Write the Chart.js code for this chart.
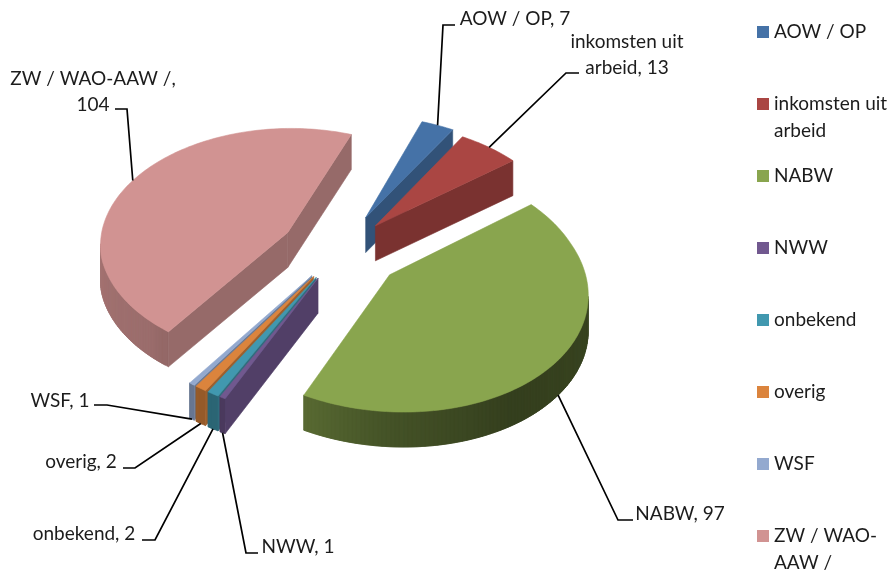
<!DOCTYPE html>
<html>
<head>
<meta charset="utf-8">
<title>Inkomstenbron</title>
<script src="https://cdn.jsdelivr.net/npm/chart.js@4"></script>
<style>
  html, body { margin: 0; padding: 0; background: #fff; }
  canvas { display: block; }
</style>
</head>
<body>
<canvas id="chart" width="896" height="574"></canvas>
<script>
(function(){
  const categories = ['AOW / OP', 'inkomsten uit arbeid', 'NABW', 'NWW', 'onbekend', 'overig', 'WSF', 'ZW / WAO-AAW /'];
  const values = [7, 13, 97, 1, 2, 2, 1, 104];
  const colors = ['#4572A7', '#AA4643', '#89A54E', '#71588F', '#4198AF', '#DB843D', '#93A9CF', '#D19392'];
  const explode = [60, 54, 61, 50, 50, 50, 50, 60];

  // legend text wrapped the way the reference wraps it
  const legendLines = [['AOW / OP'], ['inkomsten uit', 'arbeid'], ['NABW'], ['NWW'], ['onbekend'], ['overig'], ['WSF'], ['ZW / WAO-', 'AAW /']];

  // data label layout: text lines (name part), centre x, first line y, leader elbow and leader start
  const dataLabels = [
    { lines: ['AOW / OP, '], cx: 515, y: 19, from: [455, 25], elbow: [443, 25] },
    { lines: ['inkomsten uit', 'arbeid, '], cx: 627, y: 42, from: [579, 73], elbow: [566, 73] },
    { lines: ['NABW, '], cx: 680, y: 514, from: [633, 520], elbow: [618, 520] },
    { lines: ['NWW, '], cx: 298, y: 547, from: [258, 553], elbow: [246, 553] },
    { lines: ['onbekend, '], cx: 84, y: 534, from: [142, 540], elbow: [155, 540] },
    { lines: ['overig, '], cx: 81, y: 462, from: [123, 468], elbow: [135, 468] },
    { lines: ['WSF, '], cx: 60, y: 401, from: [94, 405], elbow: [107, 405] },
    { lines: ['ZW / WAO-AAW /,', ''], cx: 93, y: 79, from: [115, 109], elbow: [127, 109] },
  ];

  const FONT = '19px Lato, "Open Sans", sans-serif';
  const TEXT = '#1c1c1c';
  const SQUASH = 0.62;   // tilt of the pie plane
  const PERSP = 0.10;    // near side bigger than far side
  const SHEAR_BACK = 0.06, SHEAR_FRONT = 0.09;  // plane leans right towards the viewer
  const TILT = 0.03;     // right side of the ellipse sits a bit higher
  const DEPTH = 35;

  function shadeColor(hex, f){
    const n = parseInt(hex.slice(1), 16);
    const c = [(n >> 16) & 255, (n >> 8) & 255, n & 255].map(v => Math.round(v * f));
    return 'rgb(' + c.join(',') + ')';
  }

  // wall brightness by outward direction (deg clockwise from top)
  const wallStops = [[60, 0.5], [100, 0.42], [150, 0.38], [185, 0.5], [208, 0.64], [225, 0.74], [280, 0.8], [400, 0.8]];
  function wallShade(deg){
    const d = deg < 60 ? deg + 360 : deg;
    for (let i = 1; i < wallStops.length; i++) {
      const a = wallStops[i - 1], b = wallStops[i];
      if (d <= b[0]) return a[1] + (b[1] - a[1]) * (d - a[0]) / (b[0] - a[0]);
    }
    return 0.8;
  }

  function arcMid(el){ return (el.startAngle + el.endAngle) / 2; }

  // pie plane -> screen
  function project(el, u, v){
    const w = 1 - PERSP * v / el.outerRadius;
    const shear = v > 0 ? SHEAR_FRONT : SHEAR_BACK;
    return [el.x + u / w + shear * v, el.y + SQUASH * v / w - TILT * u];
  }

  function rimPoint(el, a){
    const off = el.options.offset || 0;
    const m = arcMid(el);
    return project(el,
      Math.cos(m) * off + Math.cos(a) * el.outerRadius,
      Math.sin(m) * off + Math.sin(a) * el.outerRadius);
  }

  function apexPoint(el){
    const off = el.options.offset || 0;
    const m = arcMid(el);
    return project(el, Math.cos(m) * off, Math.sin(m) * off);
  }

  function fillFace(ctx, pts, color, edge){
    ctx.beginPath();
    pts.forEach((p, i) => { if (i) ctx.lineTo(p[0], p[1]); else ctx.moveTo(p[0], p[1]); });
    ctx.closePath();
    ctx.fillStyle = color;
    ctx.fill();
    if (edge) {
      ctx.strokeStyle = color;
      ctx.lineWidth = 0.6;
      ctx.stroke();
    }
  }

  function drawSlice(ctx, el, color){
    const apex = apexPoint(el);
    const steps = Math.max(2, Math.ceil((el.endAngle - el.startAngle) / 0.02));
    const rim = [];
    for (let i = 0; i <= steps; i++) rim.push(rimPoint(el, el.startAngle + (el.endAngle - el.startAngle) * i / steps));

    const side = (p, q, c, test) => {
      if (test[1][0] >= test[0][0]) return; // faces away
      fillFace(ctx, [p, q, [q[0], q[1] + DEPTH], [p[0], p[1] + DEPTH]], c, true);
    };
    const cutColor = shadeColor(color, 0.72);
    // walls overlap the next quad so no seams show
    for (let i = steps - 1; i >= 0; i--) {
      const a = el.startAngle + (el.endAngle - el.startAngle) * (i + 0.5) / steps;
      const deg = ((a * 180 / Math.PI + 90) % 360 + 360) % 360;
      side(rim[i], rim[Math.min(i + 2, steps)], shadeColor(color, wallShade(deg)), [rim[i], rim[i + 1]]);
    }
    side(apex, rim[0], cutColor, [apex, rim[0]]);
    side(rim[steps], apex, cutColor, [rim[steps], apex]);
    fillFace(ctx, [apex].concat(rim), color, true);
  }

  const pie3d = {
    id: 'pie3d',
    beforeDatasetDraw(chart){
      const ctx = chart.ctx;
      const arcs = chart.getDatasetMeta(0).data;
      const order = arcs.map((el, i) => i).sort((a, b) => Math.sin(arcMid(arcs[a])) - Math.sin(arcMid(arcs[b])));
      ctx.save();
      order.forEach(i => drawSlice(ctx, arcs[i], colors[i]));
      ctx.restore();
      return false;
    },
    afterDraw(chart){
      const ctx = chart.ctx;
      const arcs = chart.getDatasetMeta(0).data;
      ctx.save();
      ctx.font = FONT;
      ctx.textBaseline = 'middle';

      // leaders + data labels
      dataLabels.forEach((lab, i) => {
        const p = rimPoint(arcs[i], arcMid(arcs[i]));
        const frontSide = Math.sin(arcMid(arcs[i])) > 0.5;
        ctx.beginPath();
        ctx.moveTo(lab.from[0], lab.from[1]);
        ctx.lineTo(lab.elbow[0], lab.elbow[1]);
        ctx.lineTo(p[0], p[1] + (frontSide ? DEPTH : 0));
        ctx.strokeStyle = '#000';
        ctx.lineWidth = 1.7;
        ctx.stroke();

        ctx.fillStyle = TEXT;
        ctx.textAlign = 'center';
        const lines = lab.lines.slice();
        lines[lines.length - 1] += String(values[i]);
        lines.forEach((t, k) => ctx.fillText(t, lab.cx, lab.y + k * 26));
      });

      // legend
      ctx.textAlign = 'left';
      legendLines.forEach((lines, i) => {
        const y = 32 + i * 72;
        ctx.fillStyle = colors[i];
        ctx.fillRect(757, y - 6, 12, 12);
        ctx.fillStyle = TEXT;
        lines.forEach((t, k) => ctx.fillText(t, 774, y + k * 27));
      });
      ctx.restore();
    }
  };

  new Chart(document.getElementById('chart').getContext('2d'), {
    type: 'pie',
    data: {
      labels: categories,
      datasets: [{ data: values, backgroundColor: colors, borderWidth: 0, offset: explode, radius: 190 }],
    },
    options: {
      responsive: false,
      animation: false,
      rotation: 24,
      layout: { padding: { right: 216, bottom: 74 } },
      plugins: { legend: { display: false }, tooltip: { enabled: false } },
    },
    plugins: [pie3d],
  });
})();
</script>
</body>
</html>
